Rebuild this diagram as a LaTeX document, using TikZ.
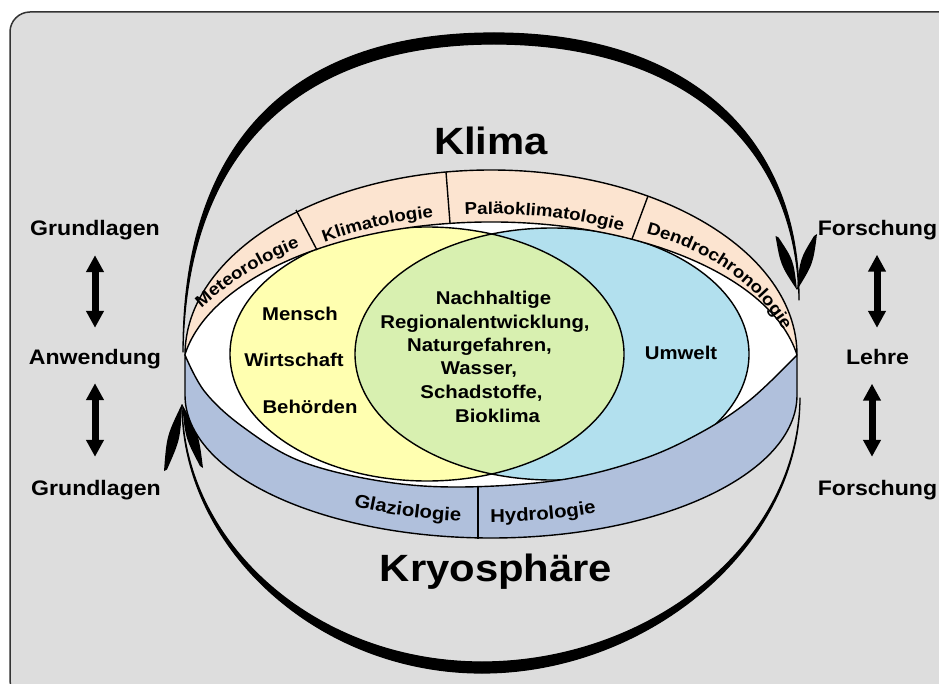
\documentclass[tikz,border=0pt]{standalone}
\usepackage{fontspec}
\setmainfont{Liberation Sans}[FakeStretch=1.1]
\usetikzlibrary{arrows.meta,decorations.text,calc}
\definecolor{bg}{HTML}{DDDDDD}
\definecolor{peach}{HTML}{FCE4D0}
\definecolor{bandblue}{HTML}{B0C0DC}
\definecolor{vyellow}{HTML}{FFFFB0}
\definecolor{vcyan}{HTML}{B2E0EE}
\definecolor{vgreen}{HTML}{D8F0B0}
\newcommand{\myfs}[1]{\fontsize{#1}{#1}\selectfont\bfseries}
\tikzset{
  lab/.style={font=\myfs{21}, inner sep=0pt, text height=15pt, text depth=4.5pt},
  vtext/.style={font=\myfs{18.5}, inner sep=0pt},
  dblarrow/.style={line width=7pt, {Triangle[length=17pt,width=17pt]}-{Triangle[length=17pt,width=17pt]}},
  outl/.style={line width=1.4pt},
  leaf/.style={fill=black}
}
\begin{document}
\begin{tikzpicture}[x=1pt,y=-1pt,line join=round]
\useasboundingbox (0,0) rectangle (939,684);
\fill[bg, draw=black!80, line width=1.5pt, rounded corners=20pt] (10,12) rectangle (960,700);

% big cycle arcs
\filldraw[line width=1.2pt] (183,352) .. controls (183,141) and (292,33) .. (494,33) .. controls (693,33) and (800,141) .. (799,300)
  .. controls (797,150) and (690,44) .. (494,44) .. controls (300,44) and (186,150) .. (183,352) -- cycle;
\filldraw[line width=1.2pt] (800,398) .. controls (800,547) and (647,673) .. (482,673) .. controls (317,673) and (182,547) .. (182,405)
  .. controls (184,545) and (317,662) .. (482,662) .. controls (647,662) and (798,547) .. (800,398) -- cycle;
% leaf arrowheads
\fill[leaf] (797,290) .. controls (780.5,265) .. (775.5,236) -- (778.5,237.5) .. controls (793.5,260) .. (797,290) -- cycle;
\fill[leaf] (797,290) .. controls (813.1,263.9) .. (817,234) -- (814,236) .. controls (799.9,259.1) .. (797,290) -- cycle;
\fill[leaf] (182,404) .. controls (166.7,435.8) .. (164,471) -- (167,469.5) .. controls (180.3,439.3) .. (182,404) -- cycle;
\fill[leaf] (182,404) .. controls (198.7,433.8) .. (203,468) -- (200,466) .. controls (185.4,438.2) .. (182,404) -- cycle;

% white lens
\fill[white] (185,355) arc[start angle=180,end angle=360,x radius=306,y radius=185]
  -- plot[smooth,tension=0.6] coordinates {(797,355) (750,400) (700,433) (640,460) (560,480) (460,487) (380,481) (300,461) (243,427) (205,392) (185,355)} -- cycle;

% Venn
\fill[vyellow] (427,354) ellipse[x radius=197, y radius=127];
\fill[vcyan] (552,354) ellipse[x radius=197, y radius=126];
\begin{scope}
\clip (427,354) ellipse[x radius=197, y radius=127];
\fill[vgreen] (552,354) ellipse[x radius=197, y radius=126];
\end{scope}
\draw[outl] (427,354) ellipse[x radius=197, y radius=127];
\draw[outl] (552,354) ellipse[x radius=197, y radius=126];

% peach band
\filldraw[fill=peach, outl] (185,355) arc[start angle=180,end angle=360,x radius=306,y radius=185]
  arc[start angle=350.9,end angle=189.1,x radius=310,y radius=158] -- cycle;
\draw[outl] (296,210) -- (317,250);
\draw[outl] (446,172) -- (450,223);
\draw[outl] (648,196) -- (632,239);

% blue band
\filldraw[fill=bandblue, outl] (185,355) -- (185,395) arc[start angle=180,end angle=0,x radius=306,y radius=143] -- (797,355)
  -- plot[smooth,tension=0.6] coordinates {(797,355) (750,400) (700,433) (640,460) (560,480) (460,487) (380,481) (300,461) (243,427) (205,392) (185,355)} -- cycle;
\draw[outl] (478,487) -- (478,539);

% band texts
\path[decorate, decoration={text along path, text align=center, text={|\myfs{17}|Meteorologie}}]
  (192,317) .. controls (225,285) and (265,258) .. (312,243);
\path[decorate, decoration={text along path, text align=center, text={|\myfs{17}|Klimatologie}}]
  ($(491,389)+(224:306 and 175)$) arc[start angle=224,end angle=270.3,x radius=306,y radius=175];
\path[decorate, decoration={text along path, text align=center, text={|\myfs{17}|Paläoklimatologie}}]
  ($(491,389)+(255:306 and 175)$) arc[start angle=255,end angle=306.5,x radius=306,y radius=175];
\path[decorate, decoration={text along path, text align=center, text={|\myfs{17}|Dendrochronologie}}]
  (630,230) .. controls (700,245) and (760,280) .. (791,345);
\path[decorate, decoration={text along path, text align=center, text={|\myfs{18.5}|Glaziologie}}]
  ($(491,375)+(130:306 and 147)$) arc[start angle=130,end angle=84,x radius=306,y radius=147];
\path[decorate, decoration={text along path, text align=center, text={|\myfs{18.5}|Hydrologie}}]
  ($(491,375)+(102:306 and 147)$) arc[start angle=102,end angle=57,x radius=306,y radius=147];

% titles
\node[font=\myfs{38}, inner sep=0pt] (klima) at (491,141) {Klima};
\node[font=\myfs{38}, inner sep=0pt] (kryo) at (496,572) {Kryosphäre};

% Venn texts
\node[vtext] (mensch) at (300,314) {Mensch};
\node[vtext] (wirt) at (294,360) {Wirtschaft};
\node[vtext] (beh) at (310,407) {Behörden};
\node[vtext] (umwelt) at (681,353) {Umwelt};
\node[vtext] (n1) at (493.5,300) {Nachhaltige};
\node[vtext] (n2) at (485,324) {Regionalentwicklung,};
\node[vtext] (n3) at (479.5,347) {Naturgefahren,};
\node[vtext] (n4) at (479,370) {Wasser,};
\node[vtext] (n5) at (481.5,393) {Schadstoffe,};
\node[vtext] (n6) at (497.5,416) {Bioklima};

% side labels
\node[lab] (g1) at (95,230.75) {Grundlagen};
\node[lab] (anw) at (95,358.75) {Anwendung};
\node[lab] (g2) at (96,489.75) {Grundlagen};
\node[lab] (f1) at (877.5,230.25) {Forschung};
\node[lab] (lehre) at (877.5,359.25) {Lehre};
\node[lab] (f2) at (877.5,489.75) {Forschung};

\draw[dblarrow, shorten <=14.5pt, shorten >=21pt] (g1) -- (g1 |- anw.north);
\draw[dblarrow, shorten <=14.5pt, shorten >=23pt] (anw.south) -- (anw.south |- g2.north);
\draw[dblarrow, shorten <=14.5pt, shorten >=21.5pt] ([xshift=-0.5pt]f1.south) -- ([xshift=-0.5pt]lehre.north);
\draw[dblarrow, shorten <=14.5pt, shorten >=23pt] ([xshift=-5.5pt]lehre.south) -- ([xshift=-5.5pt]f2.north);
\end{tikzpicture}
\end{document}
